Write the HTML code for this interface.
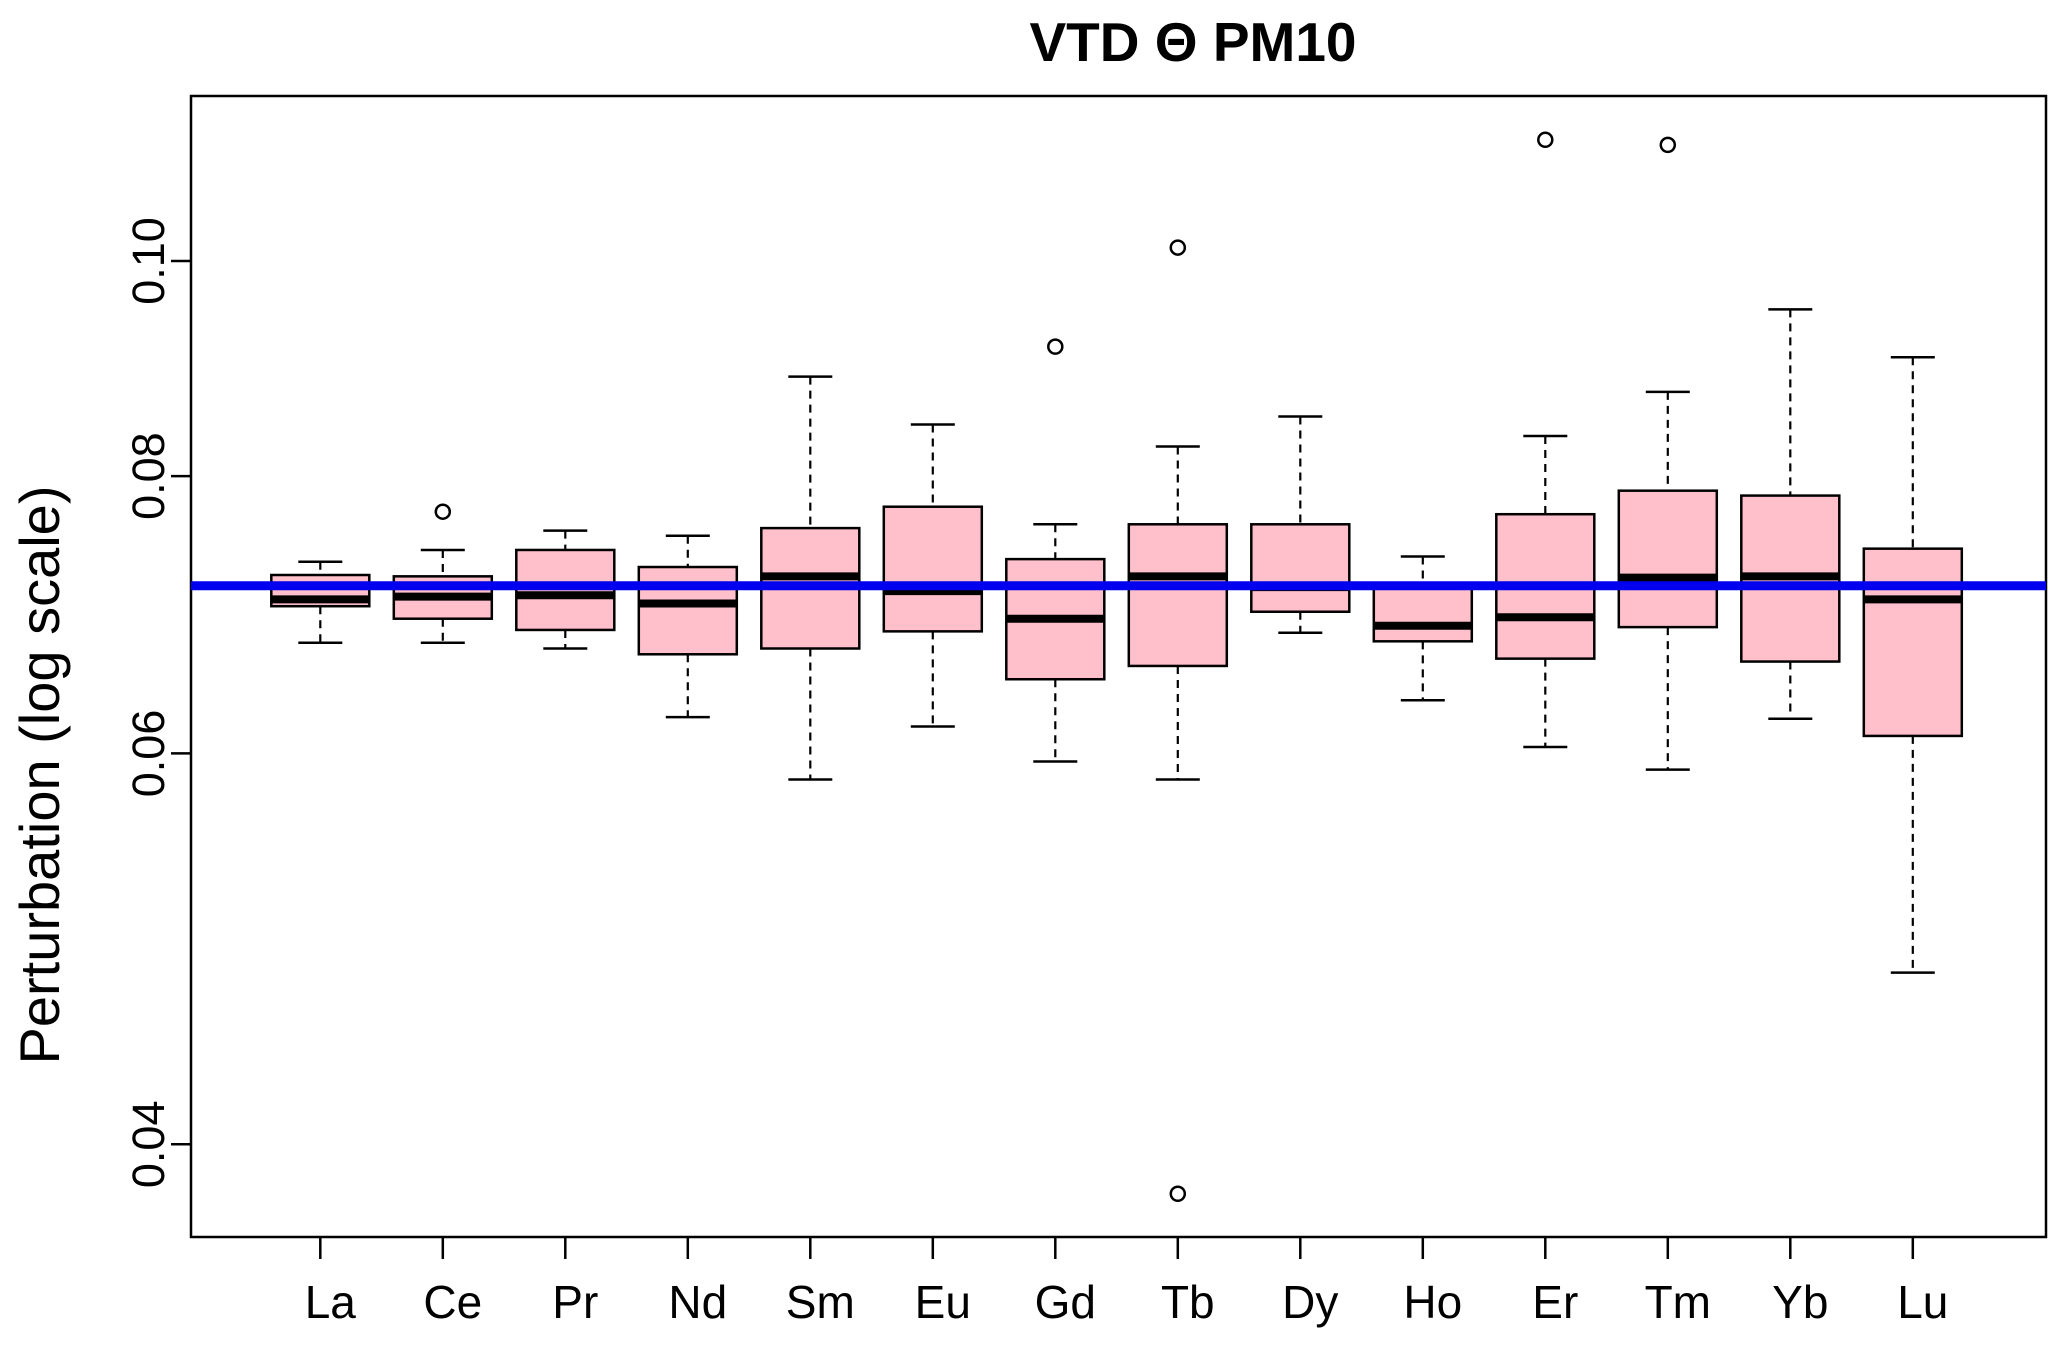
<!DOCTYPE html>
<html><head><meta charset="utf-8"><style>
html,body{margin:0;padding:0;background:#fff;}
svg{display:block;font-family:"Liberation Sans",sans-serif;}
</style></head><body>
<svg id="chart" width="2067" height="1345"></svg>
<script>
const categories=["La","Ce","Pr","Nd","Sm","Eu","Gd","Tb","Dy","Ho","Er","Tm","Yb","Lu"];
const whiskerLow=[0.0673,0.0673,0.0669,0.0623,0.0584,0.0617,0.0595,0.0584,0.0680,0.0634,0.0604,0.0590,0.0622,0.0478];
const q1=[0.0699,0.0690,0.0682,0.0665,0.0669,0.0681,0.0648,0.0657,0.0695,0.0674,0.0662,0.0684,0.0660,0.0611];
const medians=[0.0704,0.0706,0.0707,0.0701,0.0721,0.0710,0.0690,0.0721,0.0713,0.0685,0.0691,0.0720,0.0721,0.0704];
const q3=[0.0722,0.0721,0.0741,0.0728,0.0758,0.0775,0.0734,0.0761,0.0761,0.0712,0.0769,0.0788,0.0784,0.0742];
const whiskerHigh=[0.0732,0.0741,0.0756,0.0752,0.0887,0.0844,0.0761,0.0825,0.0851,0.0736,0.0834,0.0873,0.0951,0.0905];
const outlierCat=[1,6,7,7,10,11];
const outlierVal=[0.0771,0.0915,0.1014,0.0380,0.1134,0.1128];
const yTicks=[0.04,0.06,0.08,0.10];
const yTickLabels=["0.04","0.06","0.08","0.10"];
const refValue=0.0714;

const NS="http://www.w3.org/2000/svg";
const svg=document.getElementById('chart');
const L=191,R=2046,T=96,B=1237;
function y(v){return 261-964*Math.log(v/0.1);}
function x(i){return 320.3+122.5*i;}
function mk(tag,attrs,parent){const e=document.createElementNS(NS,tag);for(const k in attrs)e.setAttribute(k,attrs[k]);(parent||svg).appendChild(e);return e;}

const title=mk('text',{x:1193,y:61,'text-anchor':'middle','font-size':55,'font-weight':'bold'});


title.textContent='VTD Θ PM10';

const yt=mk('text',{x:0,y:0,transform:'translate(59,775) rotate(-90)','text-anchor':'middle','font-size':56});


yt.textContent='Perturbation (log scale)';

const frame=mk('rect',{x:L,y:T,width:R-L,height:B-T,fill:'none',stroke:'#000','stroke-width':2.5});



yTicks.forEach((v,i)=>{
  const tk=mk('line',{x1:L,x2:L-20,y1:y(v),y2:y(v),stroke:'#000','stroke-width':2.5});
  
  
  const t=mk('text',{x:0,y:0,transform:`translate(164,${y(v)}) rotate(-90)`,'text-anchor':'middle','font-size':45});
  
  
  t.textContent=yTickLabels[i];
});

categories.forEach((c,i)=>{
  const cx=x(i),hw=49,cw=22;
  const g=mk('g',{});
  
  
  mk('line',{x1:cx,x2:cx,y1:y(whiskerHigh[i]),y2:y(q3[i]),stroke:'#000','stroke-width':2.2,'stroke-dasharray':'8,6'},g);
  mk('line',{x1:cx,x2:cx,y1:y(q1[i]),y2:y(whiskerLow[i]),stroke:'#000','stroke-width':2.2,'stroke-dasharray':'8,6'},g);
  mk('line',{x1:cx-cw,x2:cx+cw,y1:y(whiskerHigh[i]),y2:y(whiskerHigh[i]),stroke:'#000','stroke-width':2.5},g);
  mk('line',{x1:cx-cw,x2:cx+cw,y1:y(whiskerLow[i]),y2:y(whiskerLow[i]),stroke:'#000','stroke-width':2.5},g);
  mk('rect',{x:cx-hw,y:y(q3[i]),width:2*hw,height:y(q1[i])-y(q3[i]),fill:'#ffc0cb',stroke:'#000','stroke-width':2.5},g);
  mk('line',{x1:cx-hw,x2:cx+hw,y1:y(medians[i]),y2:y(medians[i]),stroke:'#000','stroke-width':8},g);
  const tk=mk('line',{x1:cx,x2:cx,y1:B,y2:B+22,stroke:'#000','stroke-width':2.5});
  
  
  const t=mk('text',{x:cx+10,y:1318,'text-anchor':'middle','font-size':46});
  
  
  t.textContent=c;
});

outlierVal.forEach((v,k)=>{
  const o=mk('circle',{cx:x(outlierCat[k]),cy:y(v),r:7,fill:'none',stroke:'#000','stroke-width':2.5});
  
  
});

const ref=mk('line',{x1:L,x2:R,y1:y(refValue),y2:y(refValue),stroke:'#0000ee','stroke-width':9});


</script>
</body></html>
